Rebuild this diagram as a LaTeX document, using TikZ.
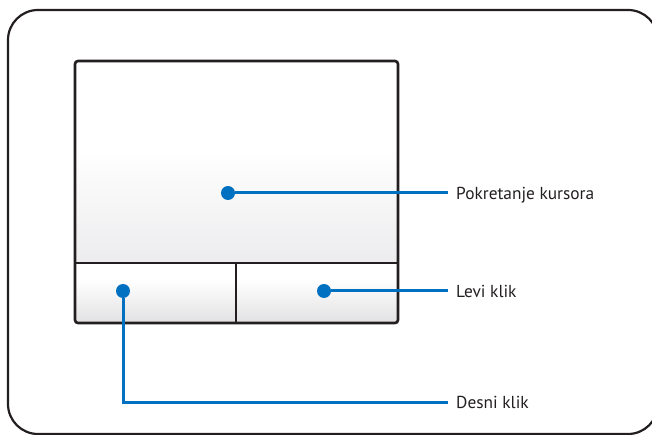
\documentclass[tikz,border=0pt]{standalone}
\usepackage{fontspec}
\setmainfont{PT Sans}
\usepackage{tikz}
\usetikzlibrary{positioning}
\definecolor{padblue}{RGB}{0,112,192}
\definecolor{padline}{RGB}{35,31,32}
\definecolor{padgray}{RGB}{236,236,238}

\begin{document}
\begin{tikzpicture}[
  x=1bp, y=-1bp,
  frame/.style = {draw=padline, line width=2.2bp, rounded corners=30bp},
  edge/.style = {draw=padline, line width=2.6bp},
  dot/.style = {circle, fill=padblue, inner sep=0pt, minimum size=14bp},
  lbl/.style = {anchor=west, inner xsep=8bp, inner ysep=0pt, text height=12.4bp, text depth=0pt,
                font=\fontsize{17.4}{20}\selectfont, text=padline},
  lead/.style = {draw=padblue, line width=3bp},
]
\clip (0,0) rectangle (652,435);
\draw[frame] (8,10) rectangle (658,434);

\shade[top color=white, bottom color=padgray] (75,150) rectangle (398,263);
\shade[top color=white, bottom color=padgray!90!gray] (75,280) rectangle (398,323);
\draw[edge, rounded corners=3bp] (75,61) rectangle (398,323);
\draw[edge] (75,263) -- (398,263);
\draw[edge] (236,263) -- (236,323);

\node[dot] (cur) at (228,193) {};
\node[dot] (levi) at (324,291) {};
\node[dot] (desni) at (123,291) {};

\node[lbl] (curlbl) at (448,193) {Pokretanje kursora};
\node[lbl] (levilbl) at (448,291) {Levi klik};
\node[lbl] (desnilbl) at (448,402) {Desni klik};
\coordinate (bend) at (123,402);

\draw[lead] (cur) -- (curlbl.west);
\draw[lead] (levi) -- (levilbl.west);
\draw[lead] (desni) -- (bend) -- (desnilbl.west);
\end{tikzpicture}
\end{document}
